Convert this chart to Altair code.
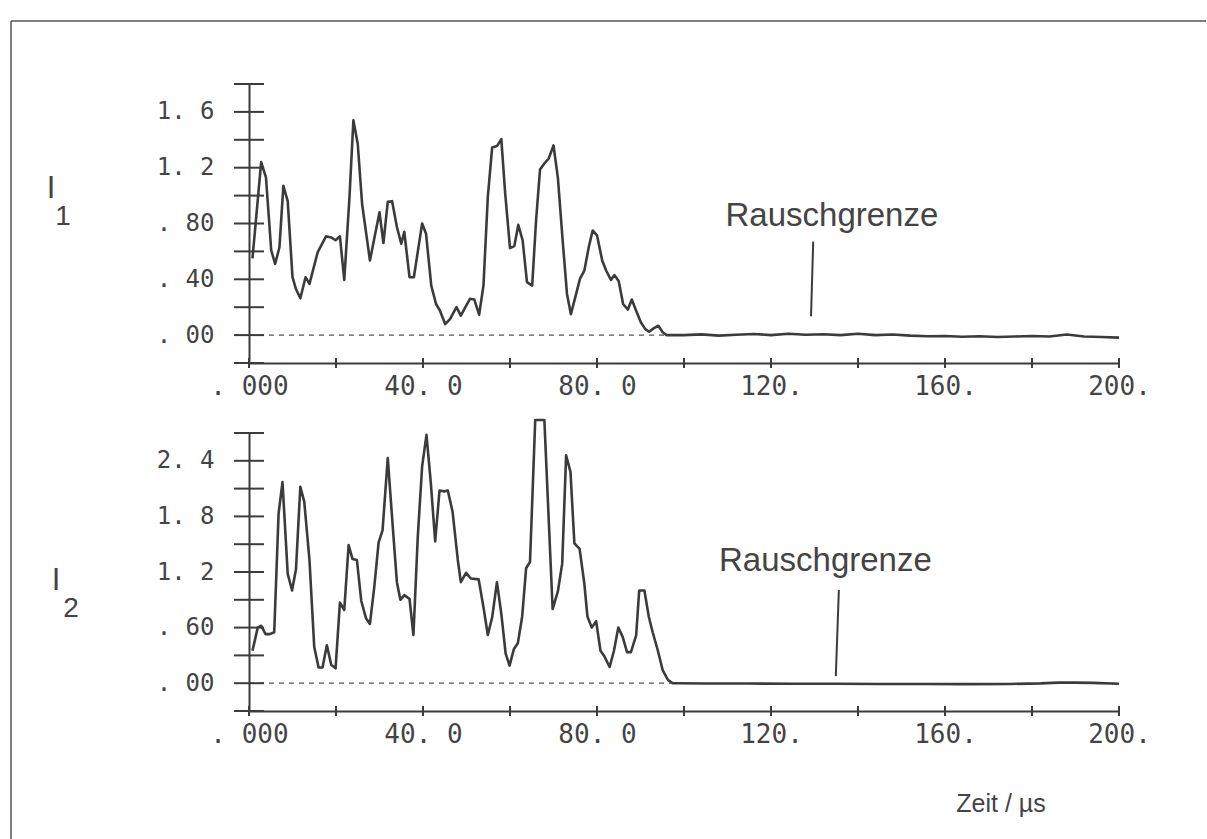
import altair as alt
import pandas as pd

# ---------------- data ----------------
t1 = [0.8, 2.8, 3.9, 5.1, 6.0, 7.0, 7.9, 8.9, 10.0, 10.8, 11.8, 13.0, 13.9, 15.8, 17.7,
      18.9, 19.9, 20.9, 21.9, 23.1, 24.0, 25.0, 26.0, 27.8, 30.0, 30.9, 31.9, 32.9, 34.0,
      35.0, 35.7, 36.9, 37.9, 39.8, 40.7, 41.9, 43.0, 43.9, 45.1, 46.2, 47.7, 48.7, 49.9,
      50.8, 51.8, 52.9, 53.9, 54.9, 55.9, 57.0, 58.0, 58.9, 60.0, 61.0, 61.9, 62.9, 63.9,
      65.1, 66.0, 66.9, 67.9, 68.9, 70.0, 71.0, 72.1, 73.1, 74.0, 75.0, 76.1, 77.1, 78.1,
      79.0, 80.0, 81.2, 82.1, 83.2, 84.0, 85.0, 86.0, 87.1, 88.0, 89.0, 90.1, 91.1, 92.0,
      93.0, 94.1, 95.1, 96.0, 98.0, 100, 104, 108, 112, 116, 120, 124, 128, 132, 136, 140,
      144, 148, 152, 156, 160, 164, 168, 172, 176, 180, 184, 188, 192, 196, 200]
i1 = [0.55, 1.24, 1.13, 0.61, 0.51, 0.63, 1.07, 0.96, 0.415, 0.33, 0.264, 0.415, 0.367,
      0.595, 0.708, 0.70, 0.68, 0.708, 0.396, 0.99, 1.54, 1.37, 0.94, 0.535, 0.88, 0.66,
      0.955, 0.96, 0.775, 0.655, 0.74, 0.415, 0.415, 0.80, 0.727, 0.355, 0.223, 0.175,
      0.079, 0.115, 0.20, 0.14, 0.21, 0.26, 0.255, 0.146, 0.355, 0.99, 1.345, 1.355, 1.405,
      1.014, 0.624, 0.638, 0.79, 0.68, 0.38, 0.355, 0.825, 1.187, 1.23, 1.266, 1.36, 1.13,
      0.68, 0.295, 0.15, 0.27, 0.405, 0.463, 0.63, 0.75, 0.715, 0.535, 0.463, 0.396, 0.43,
      0.386, 0.223, 0.183, 0.255, 0.175, 0.09, 0.043, 0.024, 0.048, 0.067, 0.02, 0.0, 0.0,
      0.0, 0.005, -0.004, 0.002, 0.008, 0.0, 0.01, 0.002, 0.006, 0.0, 0.01, 0.0, 0.004,
      -0.004, -0.008, -0.006, -0.012, -0.008, -0.014, -0.01, -0.006, -0.01, 0.004, -0.01,
      -0.014, -0.018]

t2 = [0.8, 2.0, 2.8, 3.8, 4.8, 5.8, 6.8, 7.7, 8.9, 9.9, 10.8, 11.8, 12.7, 13.9, 15.0,
      16.0, 16.9, 17.9, 18.9, 19.9, 20.9, 21.9, 22.9, 23.8, 24.8, 25.8, 26.9, 27.8, 28.8,
      29.8, 30.7, 31.9, 33.0, 34.0, 34.8, 35.7, 36.9, 37.8, 38.8, 39.8, 40.8, 41.8, 42.8,
      43.8, 44.9, 45.7, 46.8, 48.0, 48.7, 49.9, 51.0, 52.8, 53.9, 54.9, 55.9, 57.0, 58.0,
      59.0, 59.9, 60.9, 61.8, 62.8, 63.7, 64.6, 65.8, 67.9, 69.8, 71.0, 72.0, 72.9, 73.9,
      74.8, 76.0, 77.1, 77.8, 78.8, 79.8, 80.8, 81.7, 82.9, 83.9, 84.9, 85.9, 86.9, 87.8,
      89.0, 89.7, 90.9, 91.9, 92.8, 94.0, 95.1, 96.3, 97.4, 98.5, 105, 115, 125, 135, 145,
      155, 165, 175, 182, 186, 190, 194, 200]
i2 = [0.35, 0.60, 0.62, 0.53, 0.53, 0.55, 1.83, 2.17, 1.18, 1.0, 1.23, 2.12, 1.96, 1.33,
      0.39, 0.17, 0.17, 0.41, 0.20, 0.16, 0.87, 0.79, 1.49, 1.34, 1.33, 0.89, 0.70, 0.64,
      1.04, 1.52, 1.65, 2.43, 1.72, 1.09, 0.90, 0.95, 0.91, 0.52, 1.58, 2.34, 2.68, 2.16,
      1.53, 2.08, 2.07, 2.08, 1.85, 1.33, 1.09, 1.19, 1.13, 1.12, 0.82, 0.52, 0.71, 1.09,
      0.75, 0.32, 0.19, 0.37, 0.43, 0.72, 1.24, 1.31, 2.84, 2.84, 0.80, 0.99, 1.29, 2.46,
      2.28, 1.51, 1.45, 1.07, 0.72, 0.60, 0.67, 0.35, 0.29, 0.175, 0.35, 0.60, 0.50, 0.335,
      0.335, 0.515, 1.0, 1.0, 0.72, 0.55, 0.35, 0.14, 0.036, 0.0, 0.0, -0.004, -0.004,
      -0.006, -0.006, -0.008, -0.008, -0.01, -0.008, -0.002, 0.006, 0.006, 0.003, -0.006]

x_ticks = [0, 20, 40, 60, 80, 100, 120, 140, 160, 180, 200]
x_label_values = [0, 40, 80, 120, 160, 200]
x_labels = [". 000", "40. 0", "80. 0", "120.", "160.", "200."]

y1_ticks = [-0.2, 0.0, 0.2, 0.4, 0.6, 0.8, 1.0, 1.2, 1.4, 1.6, 1.8]
y1_label_values = [0.0, 0.4, 0.8, 1.2, 1.6]
y1_labels = [". 00", ". 40", ". 80", "1. 2", "1. 6"]

y2_ticks = [-0.3, 0.0, 0.3, 0.6, 0.9, 1.2, 1.5, 1.8, 2.1, 2.4, 2.7]
y2_label_values = [0.0, 0.6, 1.2, 1.8, 2.4]
y2_labels = [". 00", ". 60", "1. 2", "1. 8", "2. 4"]

annot_text = "Rauschgrenze"
x_title = "Zeit / µs"

INK = "#3b3b3b"
TXT = "#444444"
MONO = "DejaVu Sans Mono"
SANS = "Liberation Sans"


def label_expr(vals, labs):
    expr = "''"
    for v, l in reversed(list(zip(vals, labs))):
        expr = f"abs(datum.value - ({v})) < 0.000001 ? '{l}' : ({expr})"
    return expr


def make_panel(t, v, ydom, yticks, ylabvals, ylabs, zero_end, rg_text, rg_line,
               sub, height, extra_layers):
    xscale = alt.Scale(domain=[0, 200], nice=False, zero=False)
    yscale = alt.Scale(domain=ydom, nice=False, zero=False)
    xaxis = alt.Axis(values=x_label_values, labelExpr=label_expr(x_label_values, x_labels),
                     ticks=False, tickSize=0, domain=True, domainColor=INK, domainWidth=2,
                     grid=False, title=None, labelFont=MONO, labelFontSize=26,
                     labelColor=TXT, labelPadding=10, labelFlush=False, labelOverlap=False)
    yaxis = alt.Axis(values=ylabvals, labelExpr=label_expr(ylabvals, ylabs),
                     ticks=False, tickSize=0, domain=True, domainColor=INK, domainWidth=2,
                     grid=False, title=None, labelFont=MONO, labelFontSize=24,
                     labelColor=TXT, labelPadding=35, labelBaseline="middle",
                     labelFlush=False, labelOverlap=False)

    def X(f):
        return alt.X(f, type="quantitative", scale=xscale, axis=xaxis)

    def Y(f):
        return alt.Y(f, type="quantitative", scale=yscale, axis=yaxis)

    zero = alt.Chart(pd.DataFrame({"t": [0, zero_end], "v": [0, 0]})).mark_line(
        strokeDash=[5, 5], strokeWidth=1.2, color="#555555").encode(x=X("t"), y=Y("v"))

    line = alt.Chart(pd.DataFrame({"t": t, "v": v})).mark_line(
        color=INK, strokeWidth=2.6, strokeJoin="round").encode(x=X("t"), y=Y("v"))

    ytk = alt.Chart(pd.DataFrame({"v": yticks, "t": [0] * len(yticks)})).mark_rule(
        color=INK, strokeWidth=2, xOffset=-15, x2Offset=15).encode(
        x=X("t"), x2="t", y=Y("v"))

    xtk = alt.Chart(pd.DataFrame({"t": x_ticks, "v": [ydom[0]] * len(x_ticks)})).mark_rule(
        color=INK, strokeWidth=2, yOffset=-5, y2Offset=5).encode(
        x=X("t"), y=Y("v"), y2="v")

    rg_df = pd.DataFrame({"t": [rg_text[0]], "v": [rg_text[1]]})
    rg = alt.Chart(rg_df).mark_text(text=annot_text, font=SANS, fontSize=33, color=TXT,
                                    align="center", baseline="alphabetic").encode(
        x=X("t"), y=Y("v"))

    ptr_df = pd.DataFrame({"t": [rg_line[0]], "v": [rg_line[1]],
                           "t2": [rg_line[2]], "v2": [rg_line[3]]})
    ptr = alt.Chart(ptr_df).mark_rule(color=INK, strokeWidth=2).encode(
        x=X("t"), y=Y("v"), x2="t2", y2="v2")

    dummy = pd.DataFrame({"k": [0]})
    s1 = alt.Chart(dummy).mark_text(text="I", font=SANS, fontSize=31, color=TXT,
                                    align="center", baseline="alphabetic").encode(
        x=alt.value(sub[1]), y=alt.value(sub[2]))
    s2 = alt.Chart(dummy).mark_text(text=sub[0], font=SANS, fontSize=28, color=TXT,
                                    align="center", baseline="alphabetic").encode(
        x=alt.value(sub[3]), y=alt.value(sub[4]))

    layers = [zero, line, ytk, xtk, rg, ptr, s1, s2] + extra_layers
    return alt.layer(*layers).properties(width=870, height=height)


dummy = pd.DataFrame({"k": [0]})
border_top = alt.Chart(dummy).mark_rule(color="#555555", strokeWidth=1.5).encode(
    x=alt.value(-238), x2=alt.value(957), y=alt.value(-63))
border_left = alt.Chart(dummy).mark_rule(color="#555555", strokeWidth=1.5).encode(
    x=alt.value(-238), y=alt.value(-63), y2=alt.value(755))

zeit = alt.Chart(dummy).mark_text(text=x_title, font=SANS, fontSize=25, color=TXT,
                                  align="center", baseline="alphabetic").encode(
    x=alt.value(752), y=alt.value(379))

top = make_panel(t1, i1, [-0.2, 1.8], y1_ticks, y1_label_values, y1_labels, 96,
                 (134.0, 0.78), (129.7, 0.67, 129.2, 0.135),
                 ("1", -198, 114, -186, 141), 279, [border_top, border_left])
bottom = make_panel(t2, i2, [-0.3, 2.7], y2_ticks, y2_label_values, y2_labels, 97,
                    (132.5, 1.21), (135.6, 1.005, 134.9, 0.076),
                    ("2", -193, 157, -178, 184), 278, [zeit])

chart = alt.vconcat(top, bottom, spacing=70, bounds="flush").properties(
    padding={"left": 10, "top": 20, "right": 0, "bottom": 0},
    background="white",
).configure_view(stroke=None)

chart.save("out.html", embed_options={"renderer": "svg", "actions": False})
